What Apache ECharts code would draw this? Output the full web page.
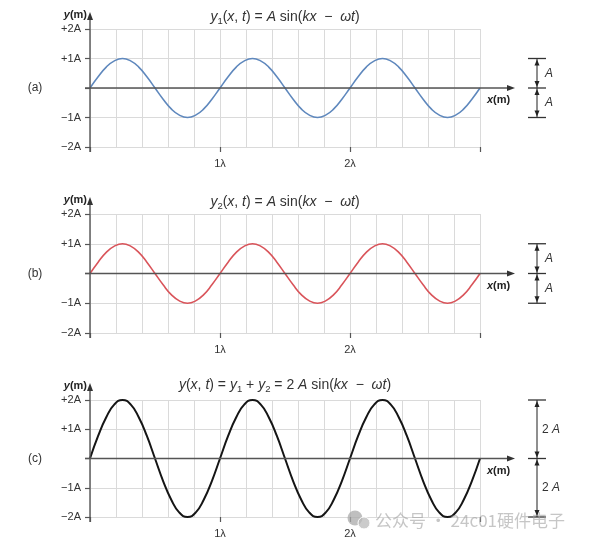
<!DOCTYPE html>
<html><head><meta charset="utf-8">
<script src="https://cdn.jsdelivr.net/npm/echarts@6/dist/echarts.min.js"></script>
<style>html,body{margin:0;padding:0;background:#fff}#c{width:589px;height:547px}</style>
</head><body><div id="c"></div>
<script>
// ---- data (x in wavelengths λ, y in units of A) ----
const xPositions = [0,0.0625,0.125,0.1875,0.25,0.3125,0.375,0.4375,0.5,0.5625,0.625,0.6875,0.75,0.8125,0.875,0.9375,
  1,1.0625,1.125,1.1875,1.25,1.3125,1.375,1.4375,1.5,1.5625,1.625,1.6875,1.75,1.8125,1.875,1.9375,
  2,2.0625,2.125,2.1875,2.25,2.3125,2.375,2.4375,2.5,2.5625,2.625,2.6875,2.75,2.8125,2.875,2.9375,3];
const y1Values = [0,0.38,0.71,0.92,1,0.92,0.71,0.38,0,-0.38,-0.71,-0.92,-1,-0.92,-0.71,-0.38,
  0,0.38,0.71,0.92,1,0.92,0.71,0.38,0,-0.38,-0.71,-0.92,-1,-0.92,-0.71,-0.38,
  0,0.38,0.71,0.92,1,0.92,0.71,0.38,0,-0.38,-0.71,-0.92,-1,-0.92,-0.71,-0.38,0];
const y2Values = [0,0.38,0.71,0.92,1,0.92,0.71,0.38,0,-0.38,-0.71,-0.92,-1,-0.92,-0.71,-0.38,
  0,0.38,0.71,0.92,1,0.92,0.71,0.38,0,-0.38,-0.71,-0.92,-1,-0.92,-0.71,-0.38,
  0,0.38,0.71,0.92,1,0.92,0.71,0.38,0,-0.38,-0.71,-0.92,-1,-0.92,-0.71,-0.38,0];
const ySumValues = [0,0.77,1.41,1.85,2,1.85,1.41,0.77,0,-0.77,-1.41,-1.85,-2,-1.85,-1.41,-0.77,
  0,0.77,1.41,1.85,2,1.85,1.41,0.77,0,-0.77,-1.41,-1.85,-2,-1.85,-1.41,-0.77,
  0,0.77,1.41,1.85,2,1.85,1.41,0.77,0,-0.77,-1.41,-1.85,-2,-1.85,-1.41,-0.77,0];
const yTickLabels = {'-2':'−2A','-1':'−1A','0':'','1':'+1A','2':'+2A'};
const xTickLabels = {'1':'1λ','2':'2λ'};
const panelLetters = ['(a)','(b)','(c)'];
const bracketSpans = [1,1,2];
const bracketLabels = ['A','A','2 A'];
const titles = [
  '{i|y}{s|1}{n|(}{i|x}{n|, }{i|t}{n|) = }{i|A}{n| sin(}{i|kx}{n|  −  }{i|ωt}{n|)}',
  '{i|y}{s|2}{n|(}{i|x}{n|, }{i|t}{n|) = }{i|A}{n| sin(}{i|kx}{n|  −  }{i|ωt}{n|)}',
  '{i|y}{n|(}{i|x}{n|, }{i|t}{n|) = }{i|y}{s|1}{n| + }{i|y}{s|2}{n| = 2 }{i|A}{n| sin(}{i|kx}{n|  −  }{i|ωt}{n|)}'
];
const seriesValues = [y1Values, y2Values, ySumValues];

// ---- styling / layout ----
const FONT = '"Liberation Sans", Arial, sans-serif';
const lineColors = ['#5f88bd','#d9545a','#151515'];
const lineWidths = [1.6,1.6,2];
const gridBoxes = [
  {left:90, top:29, width:390, height:118},
  {left:90, top:214, width:390, height:119},
  {left:90, top:400, width:390, height:117}
];
const titleOffsets = [12,12,15];
const AXIS = '#555';
const GRIDC = '#dadada';

const chart = echarts.init(document.getElementById('c'), null, {renderer:'canvas'});

const xAxes = [], yAxes = [], series = [];
gridBoxes.forEach((g, i) => {
  xAxes.push({gridIndex:i, type:'value', min:0, max:3, interval:0.2,
    axisLine:{show:false, onZero:false}, axisTick:{show:false}, axisLabel:{show:false},
    splitLine:{show:true, lineStyle:{color:GRIDC, width:1}}});
  xAxes.push({gridIndex:i, type:'value', min:0, max:3, interval:1, position:'bottom',
    axisLine:{show:false, onZero:false}, axisTick:{show:true, length:5, lineStyle:{color:AXIS, width:1.2}},
    axisLabel:{margin:11, fontSize:11, color:'#333', fontFamily:FONT, formatter:v => xTickLabels[String(v)] || ''},
    splitLine:{show:false}});
  yAxes.push({gridIndex:i, type:'value', min:-2, max:2, interval:1,
    axisLine:{show:false, onZero:false}, axisTick:{show:true, length:5, lineStyle:{color:AXIS, width:1.2}},
    axisLabel:{margin:9, fontSize:11, color:'#333', fontFamily:FONT, formatter:v => yTickLabels[String(v)]},
    splitLine:{show:true, lineStyle:{color:GRIDC, width:1}}});
  series.push({type:'line', xAxisIndex:2*i, yAxisIndex:i, smooth:true, showSymbol:false, silent:true,
    lineStyle:{color:lineColors[i], width:lineWidths[i]}, z:5,
    data:xPositions.map((x, k) => [x, seriesValues[i][k]])});
});

chart.setOption({
  animation:false,
  backgroundColor:'#fff',
  textStyle:{fontFamily:FONT},
  grid:gridBoxes,
  xAxis:xAxes,
  yAxis:yAxes,
  series:series
});

// ---- decorations placed through the chart's own coordinate system ----
const gfx = [];
const richStyles = {
  n:{fontSize:14, fontFamily:FONT, fill:'#333', lineHeight:18},
  i:{fontSize:14, fontFamily:FONT, fontStyle:'italic', fill:'#333', lineHeight:18},
  s:{fontSize:9.5, fontFamily:FONT, fill:'#333', lineHeight:9, verticalAlign:'bottom'}
};
gridBoxes.forEach((g, i) => {
  const px = (x, y) => chart.convertToPixel({xAxisIndex:2*i, yAxisIndex:i}, [x, y]);
  const o = px(0, 0), top = px(0, 2), bot = px(0, -2), end = px(3, 0);
  // y axis with arrow
  gfx.push({type:'line', z:10, shape:{x1:o[0], y1:bot[1]+5, x2:o[0], y2:top[1]-10}, style:{stroke:AXIS, lineWidth:1.4}});
  gfx.push({type:'polygon', z:10, shape:{points:[[o[0]-3, top[1]-9],[o[0]+3, top[1]-9],[o[0], top[1]-17]]}, style:{fill:'#333'}});
  // x axis with arrow
  gfx.push({type:'line', z:10, shape:{x1:o[0]-5, y1:o[1], x2:end[0]+28, y2:o[1]}, style:{stroke:AXIS, lineWidth:1.4}});
  gfx.push({type:'polygon', z:10, shape:{points:[[end[0]+27, o[1]-3],[end[0]+27, o[1]+3],[end[0]+35, o[1]]]}, style:{fill:'#333'}});
  // axis names
  gfx.push({type:'text', z:10, x:o[0]-3, y:top[1]-14, style:{
    text:'{a|y}{b|(m)}', align:'right', verticalAlign:'middle',
    rich:{a:{fontSize:11, fontFamily:FONT, fontStyle:'italic', fontWeight:'bold', fill:'#222'},
          b:{fontSize:11, fontFamily:FONT, fontWeight:'bold', fill:'#222'}}}});
  gfx.push({type:'text', z:10, x:end[0]+7, y:o[1]+12, style:{
    text:'{a|x}{b|(m)}', align:'left', verticalAlign:'middle',
    rich:{a:{fontSize:11, fontFamily:FONT, fontStyle:'italic', fontWeight:'bold', fill:'#222'},
          b:{fontSize:11, fontFamily:FONT, fontWeight:'bold', fill:'#222'}}}});
  // panel letter
  gfx.push({type:'text', z:10, x:35, y:o[1], style:{text:panelLetters[i], font:'12px '+FONT, fill:'#333', align:'center', verticalAlign:'middle'}});
  // title
  gfx.push({type:'text', z:10, x:285, y:top[1]-titleOffsets[i], style:{text:titles[i], rich:richStyles, align:'center', verticalAlign:'middle'}});
  // bracket on the right
  const s = bracketSpans[i];
  const bt = px(0, s)[1], bb = px(0, -s)[1];
  const bx = 537;
  [bt, o[1], bb].forEach(y => gfx.push({type:'line', z:10, shape:{x1:bx-9, y1:y, x2:bx+9, y2:y}, style:{stroke:'#333', lineWidth:1.3}}));
  gfx.push({type:'line', z:10, shape:{x1:bx, y1:bt, x2:bx, y2:bb}, style:{stroke:'#333', lineWidth:1.1}});
  const up = y => ({type:'polygon', z:10, shape:{points:[[bx-2.5, y+7],[bx+2.5, y+7],[bx, y+1]]}, style:{fill:'#222'}});
  const dn = y => ({type:'polygon', z:10, shape:{points:[[bx-2.5, y-7],[bx+2.5, y-7],[bx, y-1]]}, style:{fill:'#222'}});
  gfx.push(up(bt), dn(o[1]), up(o[1]), dn(bb));
  const lbl = bracketLabels[i];
  const lx = lbl.length > 1 ? bx+5 : bx+8;
  const lblRich = lbl.length > 1 ? '{n|2 }{i|A}' : '{i|A}';
  [(bt+o[1])/2, (o[1]+bb)/2].forEach(y => gfx.push({type:'text', z:10, x:lx, y:y, style:{
    text:lblRich, align:'left', verticalAlign:'middle',
    rich:{n:{fontSize:12, fontFamily:FONT, fill:'#333'}, i:{fontSize:12, fontFamily:FONT, fontStyle:'italic', fill:'#333'}}}}));
});
// watermark
gfx.push({type:'circle', z:20, shape:{cx:355, cy:518, r:7.5}, style:{fill:'rgba(170,170,170,0.75)'}});
gfx.push({type:'circle', z:20, shape:{cx:364, cy:523, r:6}, style:{fill:'rgba(185,185,185,0.75)', stroke:'#fff', lineWidth:1}});
gfx.push({type:'text', z:20, x:375, y:521, style:{text:'公众号 · 24c01硬件电子', font:'17px "Noto Sans CJK SC", sans-serif', fill:'rgba(160,160,160,0.6)', align:'left', verticalAlign:'middle'}});

chart.setOption({graphic:gfx});
</script>
</body></html>
